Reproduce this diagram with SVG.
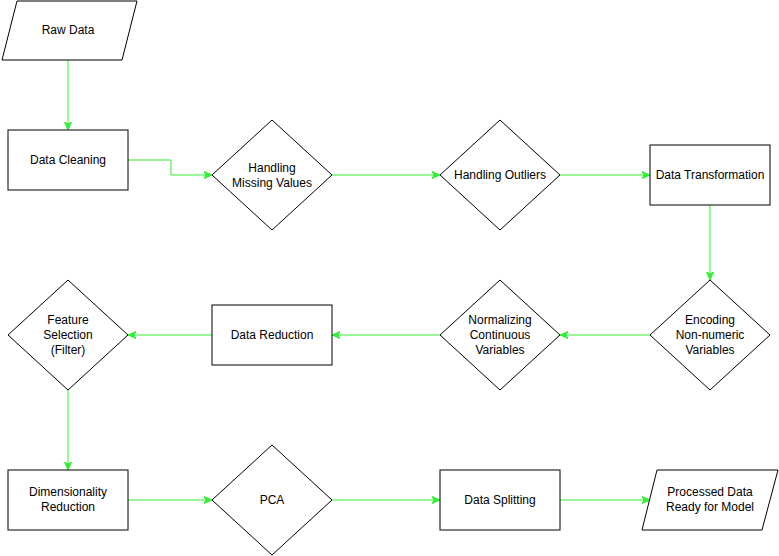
<svg xmlns="http://www.w3.org/2000/svg" width="779" height="556" viewBox="0 0 779 556">
<style>
.s{fill:#fff;stroke:#000;stroke-width:1}
.t{font-family:"Liberation Sans",Arial,sans-serif;font-size:12px;fill:#000;text-anchor:middle;dominant-baseline:central}
.c{fill:none;stroke:#33ee33;stroke-width:1;marker-end:url(#a)}
</style>
<defs><marker id="a" markerWidth="10" markerHeight="10" refX="8" refY="5" orient="auto" markerUnits="userSpaceOnUse"><path d="M0,1.5 L8,5 L0,8.5 L2,5 Z" fill="#33ee33" stroke="#33ee33"/></marker></defs>
<rect width="779" height="556" fill="#fff"/>
<g id="connectors">
<path class="c" d="M68,60 V130"/>
<path class="c" d="M128,160 H171 V175 H212"/>
<path class="c" d="M332,175 H440"/>
<path class="c" d="M560,175 H650"/>
<path class="c" d="M710,205 V280"/>
<path class="c" d="M650,335 H560"/>
<path class="c" d="M440,335 H332"/>
<path class="c" d="M212,335 H128"/>
<path class="c" d="M68,390 V470"/>
<path class="c" d="M128,500 H212"/>
<path class="c" d="M332,500 H440"/>
<path class="c" d="M560,500 H650"/>
</g>
<g id="raw"><polygon class="s" points="17,1 137,1 122,60 2,60"/><text class="t" x="68" y="30">Raw Data</text></g>
<g id="cleaning"><rect class="s" x="8" y="130" width="120" height="60"/><text class="t" x="68" y="160">Data Cleaning</text></g>
<g id="missing"><polygon class="s" points="272,120 332,175 272,230 212,175"/><text class="t" x="272" y="168">Handling</text><text class="t" x="272" y="183">Missing Values</text></g>
<g id="outliers"><polygon class="s" points="500,120 560,175 500,230 440,175"/><text class="t" x="500" y="175">Handling Outliers</text></g>
<g id="transform"><rect class="s" x="650" y="145" width="120" height="60"/><text class="t" x="710" y="175">Data Transformation</text></g>
<g id="encoding"><polygon class="s" points="710,280 770,335 710,390 650,335"/><text class="t" x="710" y="320">Encoding</text><text class="t" x="710" y="335">Non-numeric</text><text class="t" x="710" y="350">Variables</text></g>
<g id="normalizing"><polygon class="s" points="500,280 560,335 500,390 440,335"/><text class="t" x="500" y="320">Normalizing</text><text class="t" x="500" y="335">Continuous</text><text class="t" x="500" y="350">Variables</text></g>
<g id="reduction"><rect class="s" x="212" y="305" width="120" height="60"/><text class="t" x="272" y="335">Data Reduction</text></g>
<g id="feature"><polygon class="s" points="68,280 128,335 68,390 8,335"/><text class="t" x="68" y="320">Feature</text><text class="t" x="68" y="335">Selection</text><text class="t" x="68" y="350">(Filter)</text></g>
<g id="dimred"><rect class="s" x="8" y="470" width="120" height="60"/><text class="t" x="68" y="492">Dimensionality</text><text class="t" x="68" y="507">Reduction</text></g>
<g id="pca"><polygon class="s" points="272,445 332,500 272,555 212,500"/><text class="t" x="272" y="500">PCA</text></g>
<g id="splitting"><rect class="s" x="440" y="470" width="120" height="60"/><text class="t" x="500" y="500">Data Splitting</text></g>
<g id="processed"><polygon class="s" points="657,470 778,470 762,530 642,530"/><text class="t" x="710" y="492">Processed Data</text><text class="t" x="710" y="507">Ready for Model</text></g>
</svg>
